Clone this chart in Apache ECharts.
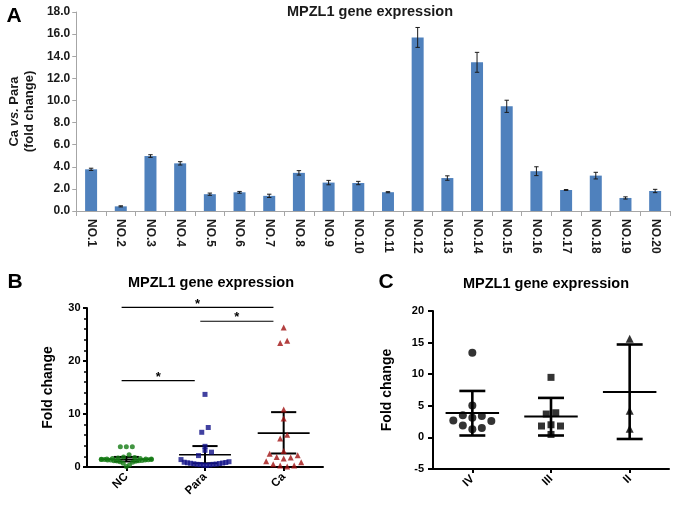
<!DOCTYPE html>
<html><head><meta charset="utf-8">
<script src="https://cdn.jsdelivr.net/npm/echarts@6/dist/echarts.min.js"></script>
<style>html,body{margin:0;padding:0;background:#fff}#c{width:677px;height:505px}</style>
</head><body><div id="c"></div>
<script>
const FONT = '"Liberation Sans", Arial, Helvetica, sans-serif';

// ---------- Panel A data ----------
const samples = ['NO.1','NO.2','NO.3','NO.4','NO.5','NO.6','NO.7','NO.8','NO.9','NO.10',
                 'NO.11','NO.12','NO.13','NO.14','NO.15','NO.16','NO.17','NO.18','NO.19','NO.20'];
const foldChange = [3.77,0.42,4.97,4.31,1.52,1.69,1.37,3.45,2.57,2.53,1.70,15.7,2.98,13.45,9.47,3.6,1.9,3.2,1.18,1.81];
const foldErr    = [0.10,0.05,0.12,0.15,0.10,0.08,0.15,0.20,0.20,0.15,0.05,0.90,0.20,0.90,0.55,0.40,0.04,0.30,0.10,0.15];

// ---------- Panel B data ----------
const groupsB = ['NC','Para','Ca'];
const ncValues = [3.8,3.8,3.8,2.3,1.9,1.8,1.7,1.6,1.6,1.5,1.5,1.5,1.45,1.4,1.4,1.4,1.35,1.3,1.3,1.3,1.25,1.2,1.2,1.15,1.1,1.0,0.9,0.7,0.4,0.1];
const paraValues = [13.7,7.45,6.55,3.9,3.15,2.8,2.15,1.4,1.0,0.9,0.85,0.8,0.75,0.7,0.65,0.6,0.55,0.5,0.5,0.45,0.4,0.35,0.3];
const caValues = [26.3,23.8,23.4,10.85,9.15,6.1,5.4,3.0,2.5,2.2,1.9,1.8,1.6,1.1,0.9,0.5,0.26,0.26,0.1];
const centerB = [1.45,2.3,6.4];
const lowB    = [1.05,0.7,2.55];
const highB   = [1.9,3.95,10.35];
const bracketsB = [['NC','Ca',30.1],['Para','Ca',27.5],['NC','Para',16.3]];

// ---------- Panel C data ----------
const stagesC = ['IV','III','II'];
const ivValues  = [13.4,5.05,3.5,3.37,3.1,2.68,2.6,1.9,1.5,1.3];
const iiiValues = [9.5,3.9,3.7,2.0,1.8,1.8,0.47];
const iiValues  = [15.6,4.2,1.36];
const centerC = [3.85,3.3,7.2];
const lowC    = [0.3,0.3,-0.25];
const highC   = [7.35,6.25,14.7];

// ---------- layout ----------
const gA = {left:69, top:12, width:601, height:199};
const gB = {left:87, top:308, width:236, height:159};
const gC = {left:433, top:311, width:236, height:158};

// simple scatter-dot layout (rows of points spread horizontally)
function swarm(vals, cat, pxPerUnit, rowPx, spacing, maxWidth){
  const sorted = vals.slice().sort((a,b)=>a-b);
  const med = sorted[Math.floor(sorted.length/2)];
  const rows = []; let cur = null;
  sorted.forEach(v=>{
    if(!cur || (v-cur.start)*pxPerUnit > rowPx){ cur = {start:v, pts:[]}; rows.push(cur); }
    cur.pts.push(v);
  });
  const out = [];
  rows.forEach(r=>{
    const pts = r.start > med ? r.pts.slice().reverse() : r.pts;
    const n = pts.length; let s = spacing;
    if(n>1 && (n-1)*s > maxWidth) s = maxWidth/(n-1);
    pts.forEach((v,i)=>{
      let k;
      if(n%2){ k = i===0 ? 0 : (i%2 ? (i+1)/2 : -i/2); }
      else { k = (i%2 ? -1 : 1)*(Math.floor(i/2)+0.5); }
      out.push({value:[cat, v], symbolOffset:[k*s, 0]});
    });
  });
  return out;
}

const pxB = gB.height/30, pxC = gC.height/25;

function errA(params, api){
  const i = api.value(0), v = api.value(1), e = api.value(2);
  const t = api.coord([i, v+e]), b = api.coord([i, v-e]);
  const x = t[0], w = 2.2;
  const st = {stroke:'#1a1a1a', lineWidth:1};
  return {type:'group', children:[
    {type:'line', shape:{x1:x,y1:t[1],x2:x,y2:b[1]}, style:st},
    {type:'line', shape:{x1:x-w,y1:t[1],x2:x+w,y2:t[1]}, style:st},
    {type:'line', shape:{x1:x-w,y1:b[1],x2:x+w,y2:b[1]}, style:st}
  ]};
}
function statRender(meanHalf, capHalf, meanW, errW){
  return function(params, api){
    const i = api.value(0), m = api.value(1), lo = api.value(2), hi = api.value(3);
    const cw = api.size([1,0])[0];
    const pm = api.coord([i,m]), pl = api.coord([i,lo]), ph = api.coord([i,hi]);
    const x = pm[0], mh = cw*meanHalf, ch = cw*capHalf;
    return {type:'group', children:[
      {type:'line', shape:{x1:x,y1:ph[1],x2:x,y2:pl[1]}, style:{stroke:'#000',lineWidth:errW}},
      {type:'line', shape:{x1:x-ch,y1:ph[1],x2:x+ch,y2:ph[1]}, style:{stroke:'#000',lineWidth:errW}},
      {type:'line', shape:{x1:x-ch,y1:pl[1],x2:x+ch,y2:pl[1]}, style:{stroke:'#000',lineWidth:errW}},
      {type:'line', shape:{x1:x-mh,y1:pm[1],x2:x+mh,y2:pm[1]}, style:{stroke:'#000',lineWidth:meanW}}
    ]};
  };
}
function bracketRender(params, api){
  const a = api.value(0), b = api.value(1), y = api.value(2);
  const cw = api.size([1,0])[0];
  const p1 = api.coord([a,y]), p2 = api.coord([b,y]);
  const x1 = p1[0]-0.06*cw, x2 = p2[0]-0.13*cw;
  return {type:'group', children:[
    {type:'line', shape:{x1:x1,y1:p1[1],x2:x2,y2:p1[1]}, style:{stroke:'#000',lineWidth:1.2}},
    {type:'text', style:{text:'*', x:(x1+x2)/2, y:p1[1]+3, align:'center', verticalAlign:'bottom', font:'bold 13px '+FONT, fill:'#000'}}
  ]};
}

const boldLbl = (size, color)=>({fontFamily:FONT, fontWeight:'bold', fontSize:size, color:color||'#000'});
const blackAxis = {show:true, lineStyle:{color:'#000', width:2}};

const chart = echarts.init(document.getElementById('c'), null, {renderer:'canvas'});
chart.setOption({
  animation:false,
  backgroundColor:'#fff',
  grid:[
    Object.assign({}, gA, {containLabel:false}),
    Object.assign({}, gB, {containLabel:false}),
    Object.assign({}, gC, {containLabel:false})
  ],
  xAxis:[
    {type:'category', gridIndex:0, data:samples,
     axisLine:{lineStyle:{color:'#a6a6a6', width:1}},
     axisTick:{show:true, length:5, lineStyle:{color:'#a6a6a6'}},
     axisLabel:Object.assign({rotate:-90, margin:8, interval:0}, boldLbl(12,'#1a1a1a'))},
    {type:'category', gridIndex:1, data:groupsB,
     axisLine:blackAxis,
     axisTick:{show:true, alignWithLabel:true, length:4, lineStyle:{color:'#000', width:2}},
     axisLabel:Object.assign({rotate:45, margin:8, interval:0}, boldLbl(11.5))},
    {type:'category', gridIndex:2, data:stagesC,
     axisLine:Object.assign({onZero:false}, blackAxis),
     axisTick:{show:true, alignWithLabel:true, length:4, lineStyle:{color:'#000', width:2}},
     axisLabel:Object.assign({rotate:45, margin:8, interval:0}, boldLbl(11.5))}
  ],
  yAxis:[
    {type:'value', gridIndex:0, min:0, max:18, interval:2,
     name:'{b|Ca }{i|vs.}{b| Para}\n{b|(fold change)}', nameLocation:'middle', nameGap:39, nameRotate:90,
     nameTextStyle:{rich:{b:{fontFamily:FONT, fontWeight:'bold', fontSize:13, color:'#1a1a1a', lineHeight:15},
                          i:{fontFamily:FONT, fontWeight:'bold', fontStyle:'italic', fontSize:13, color:'#1a1a1a', lineHeight:15}}},
     axisLine:{show:true, lineStyle:{color:'#a6a6a6'}},
     axisTick:{show:true, length:4, lineStyle:{color:'#a6a6a6'}},
     splitLine:{show:false},
     axisLabel:Object.assign({margin:6, formatter:v=>v.toFixed(1)}, boldLbl(12,'#1a1a1a'))},
    {type:'value', gridIndex:1, min:0, max:30, interval:10,
     name:'Fold change', nameLocation:'middle', nameGap:32, nameRotate:90,
     nameTextStyle:boldLbl(14),
     axisLine:blackAxis,
     axisTick:{show:true, length:4, lineStyle:{color:'#000', width:2}},
     minorTick:{show:true, splitNumber:5, length:3, lineStyle:{color:'#000', width:1.5}},
     splitLine:{show:false},
     axisLabel:Object.assign({margin:6.5}, boldLbl(11))},
    {type:'value', gridIndex:2, min:-5, max:20, interval:5,
     name:'Fold change', nameLocation:'middle', nameGap:39, nameRotate:90,
     nameTextStyle:boldLbl(14),
     axisLine:blackAxis,
     axisTick:{show:true, length:5, lineStyle:{color:'#000', width:2}},
     splitLine:{show:false},
     axisLabel:Object.assign({margin:9}, boldLbl(11))}
  ],
  graphic:[
    {type:'text', x:14, y:16, style:{text:'A', font:'bold 21px '+FONT, fill:'#000', align:'center', verticalAlign:'middle'}},
    {type:'text', x:370, y:12, style:{text:'MPZL1 gene expression', font:'bold 14.5px '+FONT, fill:'#1a1a1a', align:'center', verticalAlign:'middle'}},
    {type:'text', x:15, y:282, style:{text:'B', font:'bold 21px '+FONT, fill:'#000', align:'center', verticalAlign:'middle'}},
    {type:'text', x:211, y:283, style:{text:'MPZL1 gene expression', font:'bold 14.5px '+FONT, fill:'#000', align:'center', verticalAlign:'middle'}},
    {type:'text', x:386, y:282, style:{text:'C', font:'bold 21px '+FONT, fill:'#000', align:'center', verticalAlign:'middle'}},
    {type:'text', x:546, y:284, style:{text:'MPZL1 gene expression', font:'bold 14.5px '+FONT, fill:'#000', align:'center', verticalAlign:'middle'}}
  ],
  series:[
    {type:'bar', xAxisIndex:0, yAxisIndex:0, data:foldChange, barWidth:12,
     itemStyle:{color:'#4f81bd'}},
    {type:'custom', xAxisIndex:0, yAxisIndex:0, renderItem:errA, z:3,
     data:samples.map((s,i)=>[i, foldChange[i], foldErr[i]])},
    // panel B
    {type:'custom', xAxisIndex:1, yAxisIndex:1, renderItem:statRender(0.33,0.16,1.6,2), z:2,
     data:groupsB.map((g,i)=>[i, centerB[i], lowB[i], highB[i]])},
    {type:'scatter', xAxisIndex:1, yAxisIndex:1, symbol:'circle', symbolSize:5, z:3,
     itemStyle:{color:'#137a13'}, data:swarm(ncValues, 0, pxB, 7, 6, 50)},
    {type:'scatter', xAxisIndex:1, yAxisIndex:1, symbol:'rect', symbolSize:5, z:3,
     itemStyle:{color:'#111188'}, data:swarm(paraValues, 1, pxB, 7, 6.5, 48)},
    {type:'scatter', xAxisIndex:1, yAxisIndex:1, symbol:'triangle', symbolSize:6, z:3,
     itemStyle:{color:'#a01212'}, data:swarm(caValues, 2, pxB, 7, 7, 50)},
    {type:'custom', xAxisIndex:1, yAxisIndex:1, renderItem:bracketRender, z:4,
     data:bracketsB.map(b=>[groupsB.indexOf(b[0]), groupsB.indexOf(b[1]), b[2]])},
    // panel C
    {type:'custom', xAxisIndex:2, yAxisIndex:2, renderItem:statRender(0.34,0.165,2,2.6), z:2,
     data:stagesC.map((g,i)=>[i, centerC[i], lowC[i], highC[i]])},
    {type:'scatter', xAxisIndex:2, yAxisIndex:2, symbol:'circle', symbolSize:8, z:3,
     itemStyle:{color:'#000'}, data:swarm(ivValues, 0, pxC, 9, 9.5, 60)},
    {type:'scatter', xAxisIndex:2, yAxisIndex:2, symbol:'rect', symbolSize:7, z:3,
     itemStyle:{color:'#000'}, data:swarm(iiiValues, 1, pxC, 9, 9.5, 60)},
    {type:'scatter', xAxisIndex:2, yAxisIndex:2, symbol:'triangle', symbolSize:8, z:3,
     itemStyle:{color:'#000'}, data:swarm(iiValues, 2, pxC, 9, 9.5, 60)}
  ]
});
</script></body></html>
